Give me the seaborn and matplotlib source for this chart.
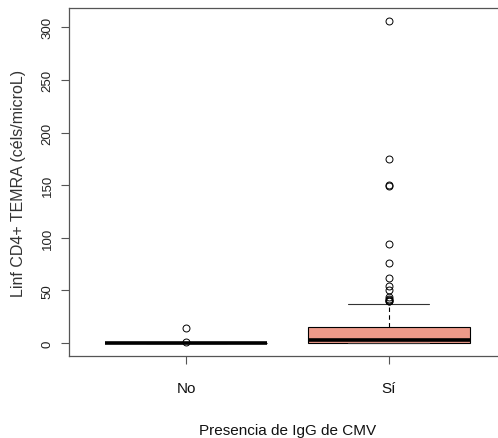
import matplotlib
matplotlib.use("Agg")
import matplotlib.pyplot as plt
from matplotlib import font_manager
import seaborn as sns
import pandas as pd

# ---- data ----
categories = ["No", "Sí"]
no_values = [0, 0, 0, 0, 0, 0, 0, 0, 0, 0,
             0, 0, 0, 0, 0, 0, 0, 0, 0, 0,
             0, 0, 0, 0, 0, 0, 0, 0, 0, 0,
             1, 14]
si_values = [0, 0, 0, 0, 0, 0, 0, 0, 0, 0,
             0, 0, 0, 0, 0, 0, 0, 0, 0, 0,
             0, 0, 0, 1, 1, 1, 1, 1, 2, 2,
             2, 2, 2, 2, 3, 3, 3, 3, 3, 3,
             3, 4, 4, 5, 5, 6, 6, 7, 7, 8,
             8, 9, 10, 10, 11, 12, 12, 13, 14, 15,
             15, 18, 22, 27, 31, 37, 40, 40, 41, 42,
             44, 50, 54, 62, 76, 94, 149, 150, 175, 306]
y_ticks = [0, 50, 100, 150, 200, 250, 300]
x_label = "Presencia de IgG de CMV"
y_label = "Linf CD4+ TEMRA (céls/microL)"

df = pd.DataFrame({
    "grupo": [categories[0]] * len(no_values) + [categories[1]] * len(si_values),
    "valor": no_values + si_values,
})

names = {f.name for f in font_manager.fontManager.ttflist}
narrow = "Liberation Sans Narrow" if "Liberation Sans Narrow" in names else "Liberation Sans"

sns.set_style("white")
plt.rcParams["font.family"] = ["Liberation Sans", "DejaVu Sans"]

fig = plt.figure(figsize=(4.98, 4.39), dpi=100)
ax = fig.add_axes([69 / 498, 1 - 357 / 439, (506 - 69) / 498, (357 - 9) / 439])

sns.boxplot(
    data=df, x="grupo", y="valor", order=categories, ax=ax,
    color="#EE9A8A", saturation=1, width=0.8, whis=1.5,
    linecolor="black", linewidth=0.8,
    medianprops=dict(color="black", linewidth=2.6),
    whiskerprops=dict(color="black", linewidth=0.8, linestyle=(0, (4, 3))),
    capprops=dict(color="#333333", linewidth=0.8),
    flierprops=dict(marker="o", markersize=5, markerfacecolor="none",
                    markeredgecolor="black", markeredgewidth=0.7),
)

ax.set_xlim(-0.58, 1.58)
ax.set_ylim(-12.24, 318.24)
ax.set_yticks(y_ticks)
ax.set_yticklabels([str(v) for v in y_ticks], rotation=90, va="center",
                   fontsize=9.5, color="#222222")
ax.set_xticks([0, 1])
ax.set_xticklabels(categories, fontsize=11, family=[narrow, "DejaVu Sans"], color="#111111")

for s in ax.spines.values():
    s.set_visible(True)
    s.set_color("#555555")
    s.set_linewidth(0.9)

ax.tick_params(axis="both", which="major", length=6, width=0.8, color="#555555",
               direction="out", bottom=True, left=True)
ax.tick_params(axis="y", pad=5)
ax.tick_params(axis="x", pad=12)

ax.set_xlabel(x_label, fontsize=11, family=[narrow, "DejaVu Sans"], labelpad=20, color="#111111")
ax.set_ylabel(y_label, fontsize=11.5, labelpad=11, color="#333333")

fig.savefig("out.png", dpi=100)
